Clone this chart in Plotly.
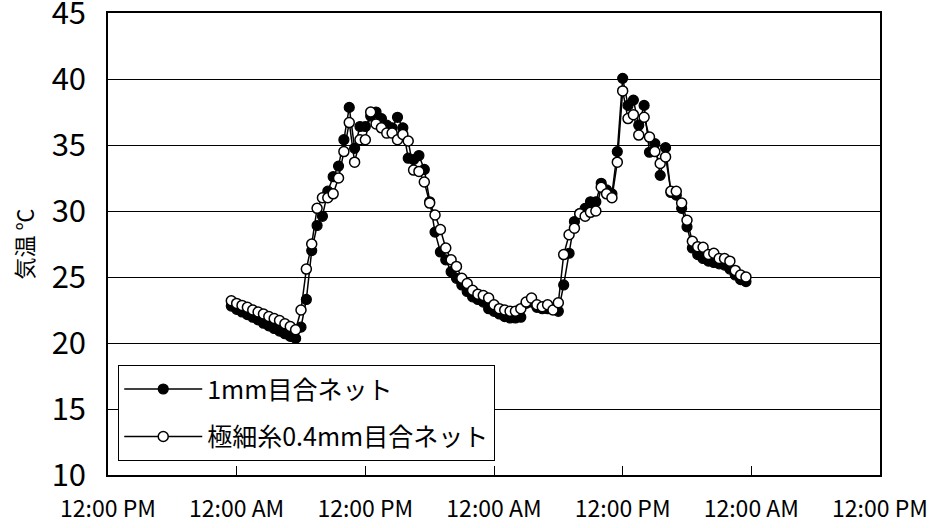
import pandas as pd
import plotly.graph_objects as go

# Half-hourly readings starting 11:30 PM on day 1
start_time = "2020-08-01 23:30"
n_points = 97

series1_name = "1mm目合ネット"
series1_values = [
    22.8, 22.55, 22.35, 22.15, 21.95, 21.75, 21.5, 21.3, 21.1, 20.9, 20.7, 20.5, 20.35,
    21.2, 23.3, 27.0, 28.9, 29.6, 31.5, 32.6, 33.4, 35.4, 37.85, 34.75, 36.4, 36.4,
    37.2, 37.5, 37.0, 36.5, 36.3, 37.1, 36.3, 34.0, 33.9, 34.2, 33.15, 30.7, 28.4,
    26.9, 26.3, 25.4, 24.9, 24.4, 23.9, 23.5, 23.3, 23.1, 22.6, 22.4, 22.2, 22.0,
    21.9, 21.9, 21.95, 23.0, 23.1, 22.7, 22.6, 22.6, 22.6, 22.4, 24.4, 26.8, 29.2,
    29.8, 30.2, 30.7, 30.7, 32.1, 31.6, 31.3, 34.5, 40.05, 38.0, 38.4, 36.5, 38.0,
    34.45, 35.1, 32.7, 34.8, 31.4, 31.2, 30.2, 28.8, 27.2, 26.7, 26.4, 26.2, 26.1,
    26.0, 25.9, 25.6, 25.15, 24.8, 24.65,
]

series2_name = "極細糸0.4mm目合ネット"
series2_values = [
    23.2, 23.0, 22.85, 22.7, 22.5, 22.35, 22.2, 22.0, 21.85, 21.7, 21.45, 21.25, 21.0,
    22.5, 25.6, 27.5, 30.2, 31.0, 31.0, 31.3, 32.5, 34.5, 36.7, 33.7, 35.4, 35.4,
    37.5, 36.6, 36.3, 35.9, 35.9, 35.4, 35.8, 35.3, 33.1, 33.0, 32.2, 30.6, 29.7,
    28.6, 27.2, 26.3, 25.8, 24.9, 24.5, 24.0, 23.7, 23.6, 23.4, 22.9, 22.6, 22.5,
    22.4, 22.4, 22.6, 23.1, 23.4, 22.9, 22.75, 22.9, 22.5, 23.05, 26.7, 28.2, 28.7,
    29.8, 29.6, 29.9, 30.0, 31.8, 31.3, 31.0, 33.7, 39.1, 37.0, 37.3, 35.75, 37.1,
    35.6, 34.5, 33.6, 34.1, 31.5, 31.5, 30.6, 29.3, 27.7, 27.3, 27.25, 26.7, 26.8,
    26.4, 26.4, 26.2, 25.5, 25.15, 25.0,
]

x_range = ["2020-08-01 12:00", "2020-08-04 12:00"]
y_range = [10, 45]
y_title = "気温 ℃"

times = pd.date_range(start_time, periods=n_points, freq="30min")

FONT = "Noto Sans CJK JP"

fig = go.Figure()
fig.add_trace(go.Scatter(
    x=times, y=series1_values, name=series1_name, mode="lines+markers",
    legendgroup="a",
    line=dict(color="black", width=1.5),
    marker=dict(symbol="circle", size=10, color="black",
                line=dict(color="black", width=1.2)),
))
fig.add_trace(go.Scatter(
    x=times, y=series2_values, name=series2_name, mode="lines+markers",
    legendgroup="b",
    line=dict(color="black", width=1.5),
    marker=dict(symbol="circle", size=10, color="white",
                line=dict(color="black", width=1.5)),
))

fig.update_layout(
    width=937, height=528,
    margin=dict(l=108, r=57, t=13, b=53),
    paper_bgcolor="white", plot_bgcolor="white",
    font=dict(family=FONT, color="black"),
    showlegend=True,
    legend=dict(
        x=0.013, y=0.238, xanchor="left", yanchor="top",
        bgcolor="white", bordercolor="black", borderwidth=1.2,
        font=dict(family=FONT, size=25, color="black"),
        itemwidth=78, tracegroupgap=12, traceorder="grouped",
    ),
)

fig.update_xaxes(
    type="date", range=x_range, automargin=False,
    dtick=12 * 3600 * 1000, tick0="2020-08-01 12:00",
    tickformat="%I:%M %p",
    showgrid=False, zeroline=False,
    showline=True, linecolor="black", linewidth=1.5, mirror=True,
    ticks="inside", ticklen=9, tickwidth=1.2, tickcolor="black",
    ticklabelstandoff=13, ticklabeloverflow="allow",
    tickfont=dict(family=FONT, size=23, color="black"),
)

fig.update_yaxes(
    range=y_range, dtick=5, automargin=False,
    showgrid=True, gridcolor="black", gridwidth=1.2,
    zeroline=False,
    showline=True, linecolor="black", linewidth=1.5, mirror=True,
    ticks="", ticklabelstandoff=14, ticklabeloverflow="allow",
    tickfont=dict(family=FONT, size=31, color="black"),
    title=dict(text=y_title, font=dict(family=FONT, size=22, color="black"),
               standoff=12),
)

# remove the default 8px page margin so the figure fills the window exactly
fig.write_html("out.html", config={"displayModeBar": False},
               post_script="document.body.style.margin='0px';")
